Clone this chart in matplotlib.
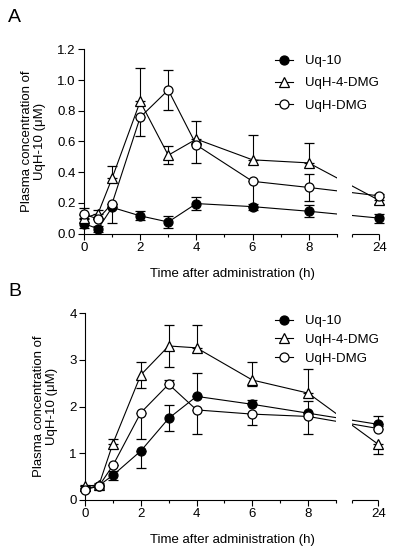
import matplotlib
matplotlib.use('Agg')
import matplotlib.pyplot as plt
import numpy as np

plt.rcParams['font.family'] = ['Liberation Sans', 'DejaVu Sans']

# sampling times (h)
times = np.array([0, 0.5, 1, 2, 3, 4, 6, 8, 24])

# panel A
uq10_a = [0.065, 0.03, 0.17, 0.115, 0.075, 0.195, 0.175, 0.145, 0.10]
uq10_a_lo = [0.03, 0.02, 0.10, 0.03, 0.04, 0.04, 0.02, 0.035, 0.03]
uq10_a_hi = [0.03, 0.02, 0.0, 0.03, 0.04, 0.045, 0.02, 0.04, 0.03]
dmg4_a = [0.10, 0.13, 0.36, 0.86, 0.51, 0.615, 0.48, 0.46, 0.215]
dmg4_a_lo = [0, 0, 0, 0, 0.06, 0, 0, 0, 0.02]
dmg4_a_hi = [0.02, 0.02, 0.08, 0.22, 0.06, 0.12, 0.16, 0.13, 0]
dmg_a = [0.125, 0.095, 0.195, 0.757, 0.935, 0.577, 0.34, 0.30, 0.245]
dmg_a_lo = [0, 0, 0, 0.12, 0.13, 0.12, 0.17, 0.09, 0.01]
dmg_a_hi = [0.04, 0, 0, 0, 0.13, 0, 0, 0.09, 0.01]

# panel B
uq10_b = [0.24, 0.31, 0.53, 1.05, 1.75, 2.22, 2.05, 1.86, 1.62]
uq10_b_lo = [0.05, 0.05, 0.1, 0.37, 0.28, 0, 0, 0, 0]
uq10_b_hi = [0.05, 0.05, 0.1, 0.0, 0.28, 0.5, 0.1, 0.27, 0.17]
dmg4_b = [0.30, 0.32, 1.21, 2.68, 3.30, 3.26, 2.57, 2.29, 1.19]
dmg4_b_lo = [0, 0, 0, 0.27, 0.45, 0, 0.12, 0, 0.2]
dmg4_b_hi = [0.02, 0.02, 0.1, 0.27, 0.45, 0.5, 0.39, 0.52, 0]
dmg_b = [0.22, 0.30, 0.74, 1.87, 2.48, 1.93, 1.84, 1.79, 1.53]
dmg_b_lo = [0, 0, 0, 0.57, 0, 0.52, 0.24, 0.38, 0]
dmg_b_hi = [0.03, 0, 0, 0, 0.1, 0, 0, 0, 0.05]

labels = ['Uq-10', 'UqH-4-DMG', 'UqH-DMG']

# broken x axis: 0-9 then a short piece for 24 h
BREAK_LO = 9.0
BREAK_HI = 9.56
POS24 = 10.52
xpos = np.where(times > 9, POS24, times)

fig = plt.figure(figsize=(3.97, 5.5), dpi=100)
axA = fig.add_axes([84/397, 1-233.5/550, 296/397, 184.2/550])
axB = fig.add_axes([85/397, 1-500/550, 294/397, 186.7/550])

styles = [dict(marker='o', mfc='black'),
          dict(marker='^', mfc='white'),
          dict(marker='o', mfc='white')]


def panel(ax, series, ymax, ystep, fmt):
    for (y, lo, hi), st, lab in zip(series, styles, labels):
        ax.errorbar(xpos, y, yerr=[lo, hi], color='black', lw=0.8,
                    elinewidth=0.8, capsize=3.5, capthick=0.8,
                    marker=st['marker'], mfc=st['mfc'], mec='black',
                    ms=6.5, mew=0.9, clip_on=False, label=lab, zorder=3)
    ax.axvspan(BREAK_LO, BREAK_HI, color='white', zorder=4, lw=0)
    ax.set_xlim(0, POS24 + 0.02)
    ax.set_ylim(0, ymax)
    for s in ['top', 'right']:
        ax.spines[s].set_visible(False)
    ax.spines['bottom'].set_bounds(0, BREAK_LO)
    ax.plot([BREAK_HI, POS24], [0, 0], color='black', lw=0.8,
            clip_on=False, zorder=5, solid_capstyle='butt')
    for s in ['left', 'bottom']:
        ax.spines[s].set_linewidth(0.8)
    ax.set_xticks([0, 2, 4, 6, 8, POS24])
    ax.set_xticklabels(['0', '2', '4', '6', '8', '24'])
    ax.set_xticks([1, 3, 5, 7, BREAK_LO, BREAK_HI], minor=True)
    ax.set_yticks(np.arange(0, ymax + ystep/2, ystep))
    ax.set_yticklabels([fmt.format(v) for v in np.arange(0, ymax + ystep/2, ystep)])
    ax.tick_params(which='major', length=4, width=0.8, labelsize=9.5, pad=2)
    ax.tick_params(which='minor', length=2.5, width=0.8)
    ax.set_xlabel('Time after administration (h)', fontsize=9.5, labelpad=10)
    ax.set_ylabel('Plasma concentration of\nUqH-10 (\u03bcM)', fontsize=9.5,
                  labelpad=8, linespacing=1.1)


panel(axA, [(uq10_a, uq10_a_lo, uq10_a_hi), (dmg4_a, dmg4_a_lo, dmg4_a_hi),
            (dmg_a, dmg_a_lo, dmg_a_hi)], 1.2, 0.2, '{:.1f}')
panel(axB, [(uq10_b, uq10_b_lo, uq10_b_hi), (dmg4_b, dmg4_b_lo, dmg4_b_hi),
            (dmg_b, dmg_b_lo, dmg_b_hi)], 4, 1, '{:.0f}')

for ax, top, sp in [(axA, 55, 0.75), (axB, 315, 0.5)]:
    h, l = ax.get_legend_handles_labels()
    h = [x[0] for x in h]
    ax.legend(h, l, loc='upper left', bbox_to_anchor=(275/397, 1-top/550),
              bbox_transform=fig.transFigure, frameon=False, fontsize=9.5,
              handlelength=1.4, handletextpad=0.9, labelspacing=sp,
              borderpad=0, borderaxespad=0)

fig.text(8/397, 1-17/550, 'A', fontsize=14, va='center')
fig.text(8/397, 1-291/550, 'B', fontsize=14, va='center')

fig.savefig('out.png', dpi=100)
